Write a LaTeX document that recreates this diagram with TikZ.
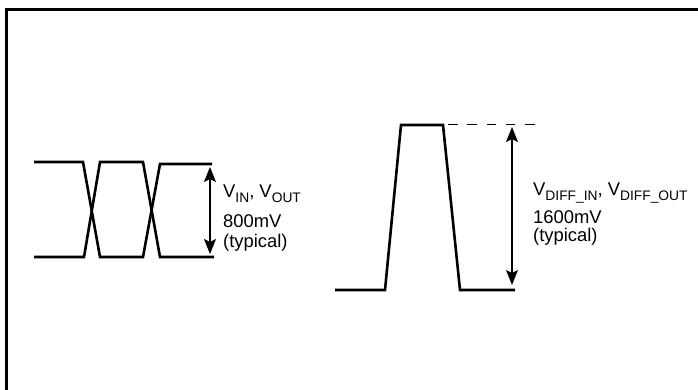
\documentclass[tikz,border=0pt]{standalone}
\usepackage{fontspec}
\setmainfont{Liberation Sans}
\usetikzlibrary{arrows.meta}
\newcommand{\lowtxt}[1]{\raisebox{-5.5pt}[0pt][0pt]{\fontsize{13.8pt}{14pt}\selectfont #1}}
\tikzset{
  wave/.style={line width=2.6pt,line join=miter},
  frameline/.style={line width=3pt},
  dim/.style={line width=1.1pt,{Stealth[length=15pt,width=12pt,inset=3pt]}-{Stealth[length=15pt,width=12pt,inset=3pt]}},
  lbl/.style={anchor=base west,inner sep=0pt,font=\fontsize{18.4pt}{18pt}\selectfont,align=left}
}
\begin{document}
\begin{tikzpicture}[x=1pt,y=-1pt]
\useasboundingbox (0,0) rectangle (698,390);
\coordinate (fa) at (6.5,390);
\coordinate (fb) at (6.5,9.5);
\coordinate (fc) at (698,9.5);
\draw[frameline] (fa) -- (fb) -- (fc);
% left eye
\coordinate (a1) at (34,162);
\coordinate (a2) at (83,162);
\coordinate (a3) at (100,162);
\coordinate (a4) at (143,162);
\coordinate (a5) at (160,164);
\coordinate (a6) at (212,164);
\coordinate (b1) at (34,257);
\coordinate (b2) at (84,257);
\coordinate (b3) at (100,257);
\coordinate (b4) at (143,257);
\coordinate (b5) at (160,257);
\coordinate (b6) at (214,257);
\draw[wave] (a1) -- (a2) -- (b3) -- (b4) -- (a5) -- (a6);
\draw[wave] (b1) -- (b2) -- (a3) -- (a4) -- (b5) -- (b6);
\coordinate (t1) at (210,167);
\coordinate (u1) at (210,254);
\draw[dim] (t1) -- (u1);
\node[lbl] (l1) at (223,247) {V\lowtxt{IN}, V\lowtxt{OUT}\\[12pt]800mV\\[2pt](typical)};
% right pulse
\coordinate (c1) at (335,290);
\coordinate (c2) at (385,290);
\coordinate (c3) at (401,125);
\coordinate (c4) at (443,125);
\coordinate (c5) at (460,290);
\coordinate (c6) at (515,290);
\coordinate (d1) at (448,124.5);
\coordinate (d2) at (535,124.5);
\draw[wave] (c1) -- (c2) -- (c3) -- (c4) -- (c5) -- (c6);
\draw[line width=0.9pt,dash pattern=on 9.5pt off 9.8pt] (d1) -- (d2);
\coordinate (t2) at (512,127);
\coordinate (t3) at (512,285);
\draw[dim] (t2) -- (t3);
\node[lbl] (l2) at (533,241) {V\lowtxt{DIFF\_IN}, V\lowtxt{DIFF\_OUT}\\[10pt]1600mV\\(typical)};
\end{tikzpicture}
\end{document}
